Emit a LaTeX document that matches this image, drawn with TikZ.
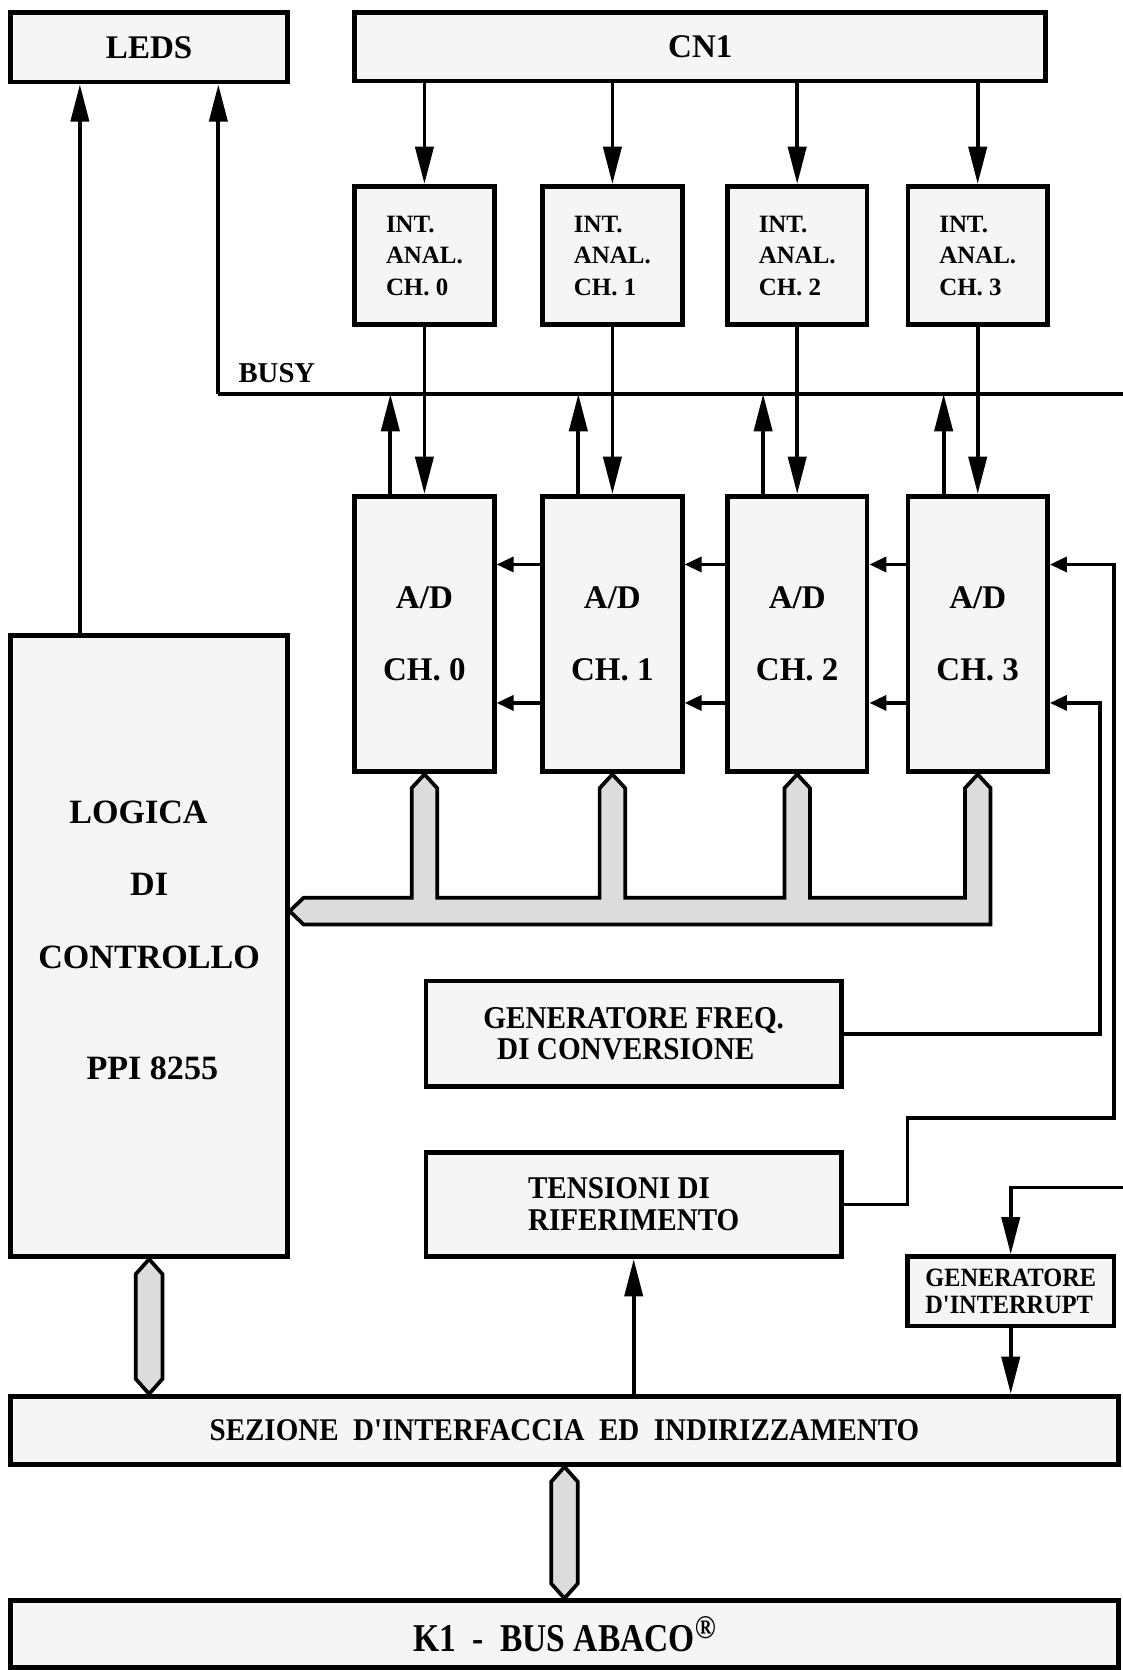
\documentclass[tikz,border=0pt]{standalone}
\usepackage{fontspec}
\setmainfont{Liberation Serif}[Ligatures=TeXOff]
\newfontfamily\condA{Liberation Serif}[FakeStretch=0.85,Ligatures=TeXOff]
\newfontfamily\condB{Liberation Serif}[FakeStretch=0.92,Ligatures=TeXOff]
\usetikzlibrary{arrows.meta,calc}
\definecolor{boxfill}{HTML}{F5F5F5}
\definecolor{busfill}{HTML}{DCDCDC}
\newcommand\myfs[2]{\fontsize{#1}{#2}\selectfont\bfseries}
\newcommand\vbusdraw[2]{\draw[bus] (#1) -- ++(12.5,14) -- ($(#2)+(12.5,-14)$) -- (#2) -- ($(#2)+(-12.5,-14)$) -- ($(#1)+(-12.5,14)$) -- cycle;}
\begin{document}
\begin{tikzpicture}[x=1pt,y=-1pt,
  box/.style={draw,line width=4.5pt,fill=boxfill,inner sep=0pt},
  conn/.style={line width=3.5pt},
  arr/.style={conn,-{Triangle[length=35pt,width=17pt]}},
  sarr/.style={conn,-{Triangle[length=16pt,width=14pt]}},
  bus/.style={draw,line width=3.5pt,fill=busfill,line join=miter}]
\useasboundingbox (0,0) rectangle (1054,1568);

% boxes
\node[box,minimum width=260pt,minimum height=65pt,font=\myfs{31}{31}] (leds) at (140,44.5) {LEDS};
\node[box,minimum width=649pt,minimum height=64pt,font=\myfs{31}{31}] (cn1) at (657.5,44) {CN1};

\node[box,minimum width=131pt,minimum height=130pt,align=left,font=\myfs{23.4}{29.5}] (int0) at (398.5,240) {INT.\\ANAL.\\CH. 0};
\node[box,minimum width=131pt,minimum height=130pt,align=left,font=\myfs{23.4}{29.5}] (int1) at (575,240) {INT.\\ANAL.\\CH. 1};
\node[box,minimum width=131pt,minimum height=130pt,align=left,font=\myfs{23.4}{29.5}] (int2) at (748.5,240) {INT.\\ANAL.\\CH. 2};
\node[box,minimum width=131pt,minimum height=130pt,align=left,font=\myfs{23.4}{29.5}] (int3) at (918,240) {INT.\\ANAL.\\CH. 3};

\node[box,minimum width=131pt,minimum height=258pt,align=center,font=\myfs{31}{31}] (ad0) at (398.5,595) {A/D\\[37pt]CH. 0};
\node[box,minimum width=131pt,minimum height=258pt,align=center,font=\myfs{31}{31}] (ad1) at (575,595) {A/D\\[37pt]CH. 1};
\node[box,minimum width=131pt,minimum height=258pt,align=center,font=\myfs{31}{31}] (ad2) at (748.5,595) {A/D\\[37pt]CH. 2};
\node[box,minimum width=131pt,minimum height=258pt,align=center,font=\myfs{31}{31}] (ad3) at (918,595) {A/D\\[37pt]CH. 3};

\node[box,minimum width=260pt,minimum height=583pt,align=center,font=\myfs{32}{32}] (logica) at (140,888.5) {LOGICA\hspace*{20pt}\\[36pt]DI\hspace*{18pt}\\[36pt]CONTROLLO\hspace*{4pt}\\[72pt]\hspace*{6pt}PPI 8255\\[-20pt]\mbox{}};

\node[box,minimum width=390pt,minimum height=99pt,align=left,font=\condB\myfs{29.8}{28.5}] (genf) at (595,970.5) {GENERATORE FREQ.\\\hspace*{13pt}DI CONVERSIONE};
\node[box,minimum width=390pt,minimum height=98pt,align=left,font=\condB\myfs{29.7}{30}] (tens) at (595,1131) {TENSIONI DI\\RIFERIMENTO};
\node[box,minimum width=194pt,minimum height=65pt,align=left,font=\condB\myfs{24.8}{26}] (genint) at (949,1212.5) {GENERATORE\\D'INTERRUPT};

\node[box,minimum width=1040pt,minimum height=64pt,font=\condB\myfs{29.6}{29.6}] (sez) at (530,1343) {SEZIONE\ \ D'INTERFACCIA\ \ ED\ \ INDIRIZZAMENTO};
\node[box,minimum width=1040pt,minimum height=63pt,font=\condA\myfs{37}{37}] (k1) at (530,1534.5) {K1\ \ -\ \ BUS ABACO\raisebox{12pt}{\fontsize{31}{31}\selectfont\textregistered}};

\node[font=\myfs{27}{27},inner sep=0pt] (busy) at (260,350) {BUSY};

% CN1 -> INT, INT -> A/D
\foreach \i in {0,1,2,3}{
  \draw[arr] (int\i.north |- cn1.south) -- (int\i.north);
  \draw[arr] (int\i.south) -- (ad\i.north);
}

% BUSY line
\coordinate (busyR) at (1054,370);
\coordinate (busyL) at (205,370);
\draw[conn] (busyR) -- (busyL);
\draw[arr] (busyL) -- (busyL |- leds.south);
\foreach \i in {0,1,2,3}{
  \coordinate (up\i) at ($(ad\i.north)+(-32,0)$);
  \draw[arr] (up\i) -- (up\i |- busyL);
}

% LOGICA -> LEDS
\coordinate (lg) at ($(logica.north)+(-65,0)$);
\draw[arr] (lg) -- (lg |- leds.south);

% chain arrows between A/D
\draw[sarr] ($(ad1.west)+(0,-65)$) -- ($(ad0.east)+(0,-65)$);
\draw[sarr] ($(ad1.west)+(0,65)$) -- ($(ad0.east)+(0,65)$);
\draw[sarr] ($(ad2.west)+(0,-65)$) -- ($(ad1.east)+(0,-65)$);
\draw[sarr] ($(ad2.west)+(0,65)$) -- ($(ad1.east)+(0,65)$);
\draw[sarr] ($(ad3.west)+(0,-65)$) -- ($(ad2.east)+(0,-65)$);
\draw[sarr] ($(ad3.west)+(0,65)$) -- ($(ad2.east)+(0,65)$);

% right-side feeds into A/D CH.3
\draw[sarr] (genf.east) -| ($(ad3.east)+(47,65)$) -- ($(ad3.east)+(0,65)$);
\draw[sarr] (tens.east) -| (852,1050) -- (1046,1050) |- ($(ad3.east)+(0,-65)$);

% interrupt generator
\coordinate (irq) at (1054,1115);
\draw[arr] (irq) -| (genint.north);
\draw[arr] (genint.south) -- (genint.south |- sez.north);

% SEZIONE -> TENSIONI
\draw[arr] (tens.south |- sez.north) -- (tens.south);

% data bus from A/D to LOGICA
\draw[bus] (272,855.5) -- (285,843)
  -- (386.5,843) -- (386.5,740) -- (398.5,727) -- (410.5,740) -- (410.5,843)
  -- (563,843) -- (563,740) -- (575,727) -- (587,740) -- (587,843)
  -- (736.5,843) -- (736.5,740) -- (748.5,727) -- (760.5,740) -- (760.5,843)
  -- (906,843) -- (906,740) -- (918,727) -- (930,740) -- (930,868)
  -- (285,868) -- cycle;

% vertical buses
\coordinate (b1t) at (logica.south);
\coordinate (b1b) at (logica.south |- sez.north);
\vbusdraw{b1t}{b1b}
\coordinate (b2t) at (sez.south);
\coordinate (b2b) at (sez.south |- k1.north);
\vbusdraw{b2t}{b2b}
\end{tikzpicture}
\end{document}
